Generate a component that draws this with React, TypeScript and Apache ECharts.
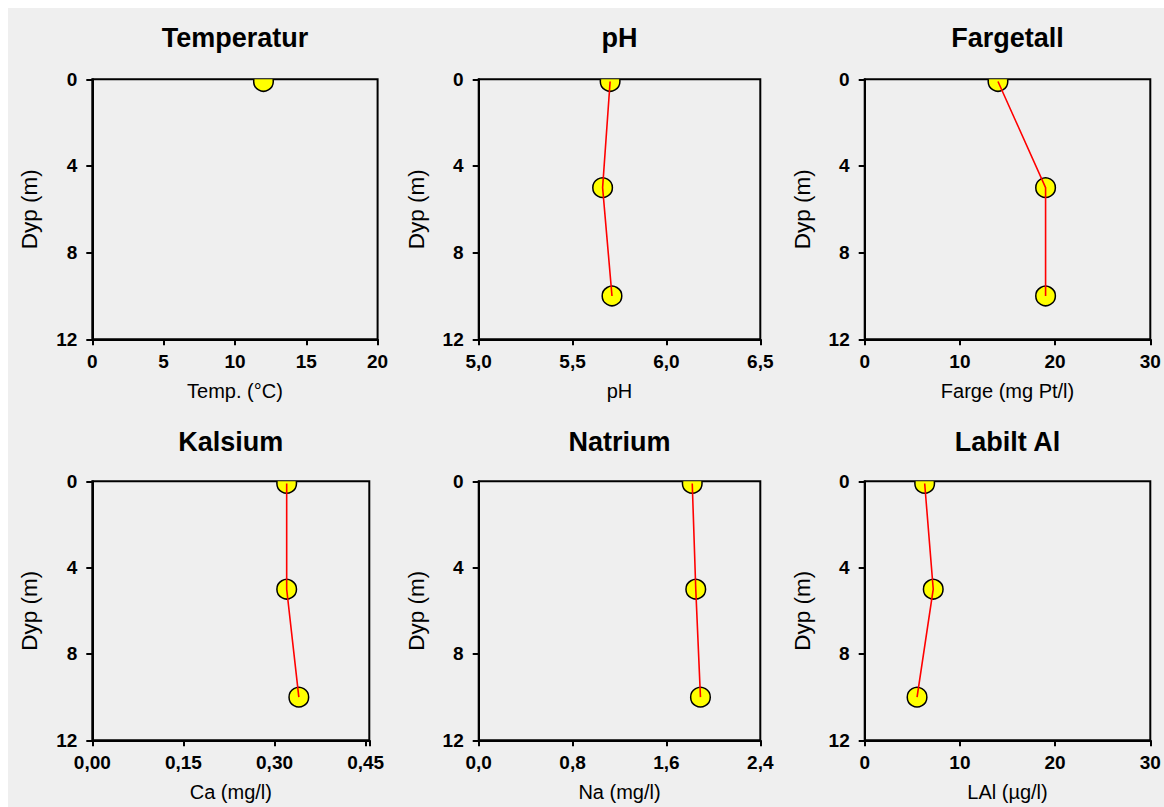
import React, { useEffect, useRef } from "react";
import * as echarts from "echarts";

// ---- data ----
const titles = ["Temperatur", "pH", "Fargetall", "Kalsium", "Natrium", "Labilt Al"];
const xNames = ["Temp. (°C)", "pH", "Farge (mg Pt/l)", "Ca (mg/l)", "Na (mg/l)", "LAl (µg/l)"];
const yName = "Dyp (m)";

const depths = [0.1, 5, 10];
const tempDepths = [0.1];
const tempValues = [12];
const phValues = [5.7, 5.66, 5.71];
const fargeValues = [14, 19, 19];
const caValues = [0.32, 0.32, 0.34];
const naValues = [1.82, 1.85, 1.89];
const alValues = [6.3, 7.2, 5.5];

const xMins = [0, 5.0, 0, 0, 0, 0];
const xMaxs = [20, 6.5, 30, 0.456, 2.4, 30];
const xIntervals = [5, 0.5, 10, 0.15, 0.8, 10];
const xDecimals = [0, 1, 0, 2, 1, 0];

const depthMin = 0;
const depthMax = 12;
const depthInterval = 4;

const FONT = 'Arial, "Liberation Sans", sans-serif';

export default function App() {
  const ref = useRef<HTMLDivElement>(null);

  useEffect(() => {
    document.body.style.margin = "0";
    const chart = echarts.init(ref.current!, null, { renderer: "svg" });

    const seriesValues = [tempValues, phValues, fargeValues, caValues, naValues, alValues];
    const seriesDepths = [tempDepths, depths, depths, depths, depths, depths];

    const colLeft = [84.3, 470.7, 856.7];
    const widths = [285.3, 281.6, 285.6, 277, 281.6, 285.6];
    const rowTop = [71.3, 473.3];
    const heights = [260, 259];

    const grids: any[] = [];
    const xAxes: any[] = [];
    const yAxes: any[] = [];
    const titleOpts: any[] = [];
    const series: any[] = [];

    for (let i = 0; i < 6; i++) {
      const r = Math.floor(i / 3);
      const c = i % 3;
      const left = colLeft[c];
      const top = rowTop[r];
      const w = widths[i];
      const h = heights[r];
      grids.push({
        left,
        top,
        width: w,
        height: h,
        show: true,
        borderColor: "#000",
        borderWidth: 2,
        backgroundColor: "transparent",
        containLabel: false,
      });
      titleOpts.push({
        text: titles[i],
        left: left + w / 2,
        top: r === 0 ? 16 : 420,
        textAlign: "center",
        padding: 0,
        textStyle: { fontFamily: FONT, fontWeight: "bold", fontSize: 27, color: "#000" },
      });
      const dec = xDecimals[i];
      const step = xIntervals[i];
      const mn = xMins[i];
      xAxes.push({
        type: "value",
        gridIndex: i,
        min: xMins[i],
        max: xMaxs[i],
        interval: step,
        position: "bottom",
        name: xNames[i],
        nameLocation: "middle",
        nameGap: 42,
        nameTextStyle: { fontFamily: FONT, fontSize: 20, color: "#000" },
        axisLine: { show: true, onZero: false, lineStyle: { color: "#000", width: 2 } },
        axisTick: { show: true, length: 6, lineStyle: { color: "#000", width: 2 } },
        splitLine: { show: false },
        axisLabel: {
          margin: 13,
          fontFamily: FONT,
          fontWeight: "bold",
          fontSize: 19,
          color: "#000",
          formatter: (v: number) => {
            const k = (v - mn) / step;
            if (Math.abs(k - Math.round(k)) > 1e-6) return "";
            return v.toFixed(dec).replace(".", ",");
          },
        },
      });
      yAxes.push({
        type: "value",
        gridIndex: i,
        min: depthMin,
        max: depthMax,
        interval: depthInterval,
        inverse: true,
        name: yName,
        nameLocation: "middle",
        nameGap: 51,
        nameTextStyle: { fontFamily: FONT, fontSize: 22.5, color: "#000" },
        axisLine: { show: true, onZero: false, lineStyle: { color: "#000", width: 2 } },
        axisTick: { show: true, length: 6, lineStyle: { color: "#000", width: 2 } },
        splitLine: { show: false },
        axisLabel: { margin: 15, fontFamily: FONT, fontWeight: "bold", fontSize: 19, color: "#000" },
      });

      const pts = seriesValues[i].map((v, j) => [v, seriesDepths[i][j]]);
      series.push({
        type: "custom",
        xAxisIndex: i,
        yAxisIndex: i,
        clip: true,
        z: 2,
        data: pts,
        encode: { x: 0, y: 1 },
        renderItem: (params: any, api: any) => {
          const p = api.coord([api.value(0), api.value(1)]);
          return {
            type: "circle",
            shape: { cx: p[0], cy: p[1], r: 9.8 },
            style: { fill: "#ffff00", stroke: "#000", lineWidth: 1.5 },
          };
        },
      });
      if (pts.length > 1) {
        series.push({
          type: "line",
          xAxisIndex: i,
          yAxisIndex: i,
          z: 3,
          clip: true,
          showSymbol: false,
          symbol: "none",
          data: pts,
          lineStyle: { color: "#ff0000", width: 1.6 },
        });
      }
    }

    chart.setOption({
      animation: false,
      backgroundColor: "#efefef",
      title: titleOpts,
      grid: grids,
      xAxis: xAxes,
      yAxis: yAxes,
      series,
      tooltip: { show: false },
    });

    return () => chart.dispose();
  }, []);

  return (
    <div style={{ width: 1164, height: 807, background: "#ffffff", overflow: "hidden" }}>
      <div
        ref={ref}
        style={{ marginLeft: 8, paddingTop: 0, position: "relative", top: 8, width: 1156, height: 799, background: "#efefef" }}
      />
    </div>
  );
}
